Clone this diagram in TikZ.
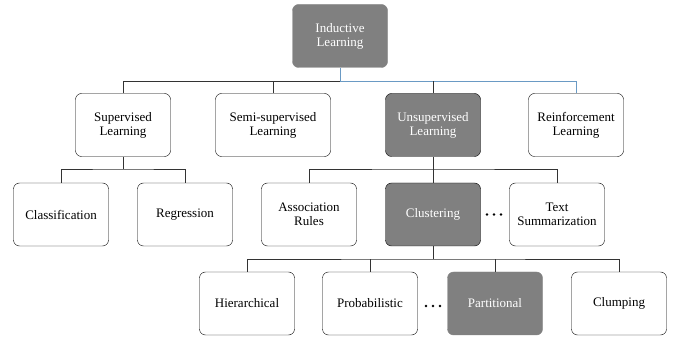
\documentclass[tikz,border=0pt]{standalone}
\usepackage{fontspec}
\setmainfont{Liberation Serif}
\usepackage{xcolor}
\definecolor{boxgray}{HTML}{808080}
\definecolor{linkblue}{HTML}{6A9AC4}

\begin{document}
\begin{tikzpicture}[x=1pt,y=-1pt,
    box/.style={draw=black, rounded corners=6pt, minimum width=95pt, minimum height=63pt,
        align=center, inner sep=1pt, font=\fontsize{13}{14}\selectfont},
    darkbox/.style={box, fill=boxgray, text=white},
    flatbox/.style={darkbox, draw=boxgray},
    link/.style={draw=black!80, line width=0.7pt},
    bluelink/.style={draw=linkblue, line width=0.7pt}]
            \useasboundingbox (0,0) rectangle (678,339);
            \node[flatbox] (ind) at (340,36) {Inductive\\Learning};
            \node[box] (sup) at (123,125) {Supervised\\Learning};
            \node[box, minimum width=115pt] (semi) at (273,125) {Semi-supervised\\Learning};
            \node[darkbox] (unsup) at (433,125) {Unsupervised\\Learning};
            \node[box] (rein) at (576,125) {Reinforcement\\Learning};
            \node[box] (cls) at (61,214.5) {Classification};
            \node[box] (reg) at (185,214.5) {Regression};
            \node[box] (assoc) at (309,214.5) {Association\\Rules};
            \node[darkbox] (clust) at (433,214.5) {Clustering};
            \node[box] (summ) at (557,214.5) {Text\\Summarization};
            \node[box] (hier) at (247,303.5) {Hierarchical};
            \node[box] (prob) at (370,303.5) {Probabilistic};
            \node[flatbox] (part) at (495,303.5) {Partitional};
            \node[box] (clump) at (619,303.5) {Clumping};
            \coordinate (b1) at (340,81);
            \coordinate (b2) at (123,169);
            \coordinate (b3) at (433,169);
            \coordinate (b4) at (433,259);
            \draw[link] (sup.north) |- (b1);
            \draw[link] (semi.north) -- (semi.north |- b1);
            \draw[bluelink] (ind.south) -- (b1) -| (rein.north);
            \draw[link] (unsup.north) -- (unsup.north |- b1);
            \draw[link] (sup.south) -- (b2);
            \draw[link] (cls.north) |- (b2) -| (reg.north);
            \draw[link] (unsup.south) -- (b3);
            \draw[link] (assoc.north) |- (b3) -| (summ.north);
            \draw[link] (clust.north) -- (b3);
            \draw[link] (clust.south) -- (b4);
            \draw[link] (hier.north) |- (b4) -| (clump.north);
            \draw[link] (prob.north) -- (prob.north |- b4);
            \draw[link] (part.north) -- (part.north |- b4);
            \foreach \dx in {-7,0,7} {
                \fill (494+\dx,214.5) circle (1.4);
                \fill (433+\dx,306) circle (1.4);
            }
        \end{tikzpicture}
\end{document}
